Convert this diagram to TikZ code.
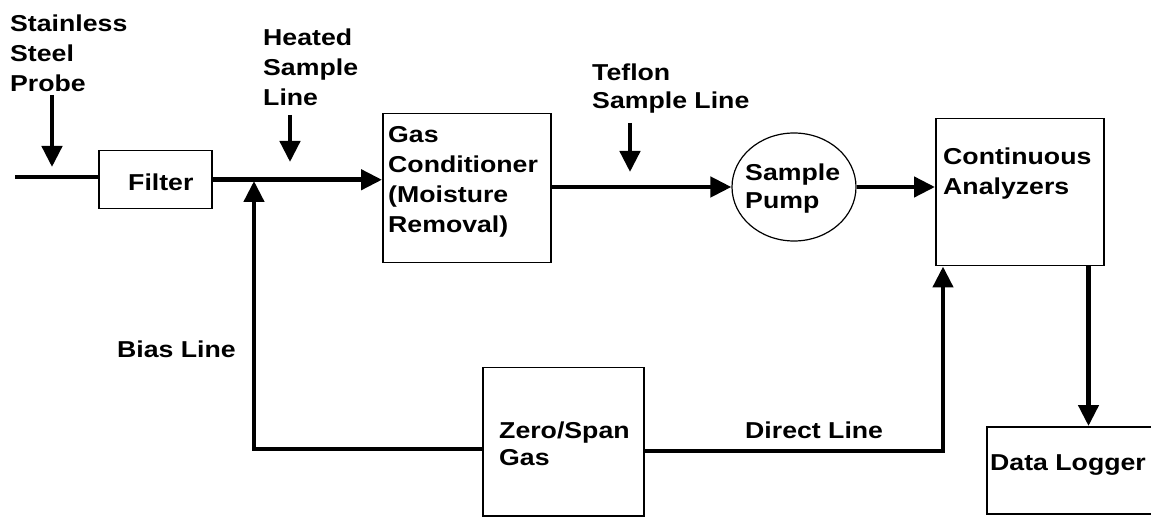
\documentclass[tikz,border=0pt]{standalone}
\usepackage{fontspec}
\setmainfont{Liberation Sans}[FakeStretch=1.16]
\usetikzlibrary{arrows.meta,shapes.geometric}
\newcommand\fl{\rule{0pt}{17pt}}
\tikzset{
  box/.style={draw=black, line width=1.5pt, rectangle, inner sep=0pt, anchor=north west},
  pumpshape/.style={draw=black, line width=1.2pt, ellipse, inner sep=0pt, minimum width=124pt, minimum height=108pt},
  txt/.style={anchor=north west, inner sep=0pt, align=left, font=\bfseries\fontsize{23}{30}\selectfont},
  ln/.style={line width=4.5pt},
  arr/.style={line width=4.5pt, -{Triangle[length=21pt,width=20pt]}}
}
\begin{document}
\begin{tikzpicture}[x=1pt,y=-1pt]
\clip (0,0) rectangle (1151,518);
\fill[white] (0,0) rectangle (1151,518);
% boxes
\node[box, minimum width=113pt, minimum height=58pt] (filter) at (98,150) {};
\node[box, minimum width=168pt, minimum height=149pt] (gc) at (382,113) {};
\node[pumpshape] (pump) at (794,187) {};
\node[box, minimum width=168pt, minimum height=147pt] (ca) at (935,118) {};
\node[box, minimum width=180pt, minimum height=87pt] (dl) at (986,426) {};
\node[box, minimum width=161pt, minimum height=148pt] (zs) at (482,367) {};
% texts
\node[txt] (probet) at (10,14) {\fl Stainless\\Steel\\Probe};
\node[txt] (heatedt) at (263,28) {\fl Heated\\Sample\\Line};
\node[txt, font=\bfseries\fontsize{23}{28}\selectfont] (teflont) at (592,63) {\fl Teflon\\Sample Line};
\node[txt] (filtert) at (128,173) {\fl Filter};
\node[txt] (gct) at (388,125) {\fl Gas\\Conditioner\\(Moisture\\Removal)};
\node[txt, font=\bfseries\fontsize{23}{28}\selectfont] (pumpt) at (745,163) {\fl Sample\\Pump};
\node[txt] (cat) at (943,147) {\fl Continuous\\Analyzers};
\node[txt] (dlt) at (990,453) {\fl Data Logger};
\node[txt, font=\bfseries\fontsize{23}{27}\selectfont] (zst) at (499,421) {\fl Zero/Span\\Gas};
\node[txt] (biast) at (117,340) {\fl Bias Line};
\node[txt] (directt) at (745,421) {\fl Direct Line};
% coordinates
\coordinate (pin) at (15,177);
\coordinate (pa) at (52,95);
\coordinate (pb) at (52,167);
\coordinate (ha) at (290,115);
\coordinate (hb) at (290,162);
\coordinate (ta) at (630,123);
\coordinate (tb) at (630,172);
\coordinate (bt) at (254,181);
% connectors
\draw[ln] (pin) -- (pin -| filter.west);
\draw[arr] (pa) -- (pb);
\draw[arr] (ha) -- (hb);
\draw[arr] (ta) -- (tb);
\draw[arr] (filter.east) -- (filter.east -| gc.west);
\draw[arr] (gc.east |- pump.west) -- (pump.west);
\draw[arr] (pump.east) -- (pump.east -| ca.west);
\draw[arr] ([xshift=-16pt]ca.south east) -- ([xshift=-16pt]ca.south east |- dl.north);
\draw[arr] ([yshift=-7pt]zs.west) -| (bt);
\draw[arr] ([yshift=-9pt]zs.east) -| ([xshift=8pt]ca.south west);
\end{tikzpicture}
\end{document}
